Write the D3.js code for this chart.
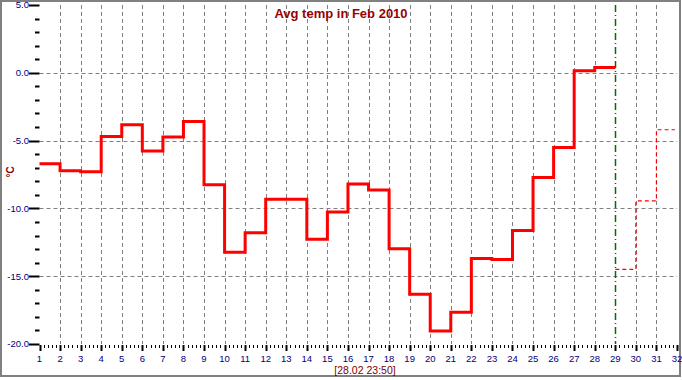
<!DOCTYPE html>
<html><head><meta charset="utf-8">
<script src="https://cdn.jsdelivr.net/npm/d3@7"></script>
<style>body{margin:0;background:#fff;}svg{display:block;font-family:Arial,"Liberation Sans",sans-serif;}</style>
</head><body>
<svg id="c" width="682" height="380"></svg>
<script>
const days = [1,2,3,4,5,6,7,8,9,10,11,12,13,14,15,16,17,18,19,20,21,22,23,24,25,26,27,28];
const temps = [-6.7,-7.23,-7.3,-4.69,-3.83,-5.76,-4.74,-3.59,-8.25,-13.24,-11.8,-9.33,-9.33,-12.28,-10.26,-8.2,-8.64,-12.97,-16.34,-19.05,-17.65,-13.7,-13.77,-11.63,-7.72,-5.5,0.15,0.4];
const forecastDays = [29,30,31];
const forecastTemps = [-14.5,-9.45,-4.2];
const xTicks = d3.range(1,33);
const yTicks = [5,0,-5,-10,-15,-20];
const title = "Avg temp in Feb 2010";
const stamp = "[28.02 23:50]";
const nowDay = 29;

const svg = d3.select("#c");
const x = d3.scaleLinear().domain([1,32]).range([39.5,677]);
const y = d3.scaleLinear().domain([-20,5]).range([344,5]);

svg.append("rect").attr("x",1).attr("y",1).attr("width",679).attr("height",375)
  .attr("fill","#fff").attr("stroke","#808080").attr("stroke-width",2);

// grid
svg.append("g").selectAll("line").data(xTicks.filter(d=>d>1 && d<32 && d!==nowDay)).join("line")
  .attr("x1",d=>Math.round(x(d))+0.5).attr("x2",d=>Math.round(x(d))+0.5)
  .attr("y1",y(5)).attr("y2",y(-20))
  .attr("stroke","#808080").attr("stroke-dasharray","4,3");
svg.append("g").selectAll("line").data(yTicks.filter(d=>d>-20 && d<5)).join("line")
  .attr("x1",x(1)).attr("x2",x(32))
  .attr("y1",d=>Math.round(y(d))+0.5).attr("y2",d=>Math.round(y(d))+0.5)
  .attr("stroke","#808080").attr("stroke-dasharray","4,3");

// now line
svg.append("line").attr("x1",Math.round(x(nowDay))+0.5).attr("x2",Math.round(x(nowDay))+0.5)
  .attr("y1",y(5)).attr("y2",y(-20)).attr("stroke","#007000").attr("stroke-width",1.5)
  .attr("stroke-dasharray","7,3,1,3");

// axes ticks
const yMinor = d3.range(-20,5.001,1);
svg.append("g").selectAll("line").data(yMinor).join("line")
  .attr("x1",d=>yTicks.includes(d)?29:35).attr("x2",39.5)
  .attr("y1",d=>Math.round(y(d))+0.5).attr("y2",d=>Math.round(y(d))+0.5)
  .attr("stroke","#000").attr("stroke-width",2);
const xMinor = d3.range(0,31*5+1).map(i=>1+i/5);
svg.append("g").selectAll("line").data(xMinor).join("line")
  .attr("x1",d=>Math.round(x(d))+0.5).attr("x2",d=>Math.round(x(d))+0.5)
  .attr("y1",345).attr("y2",(d,i)=>i%5===0?351:348)
  .attr("stroke","#000").attr("stroke-width",(d,i)=>i%5===0?2:1);

svg.append("g").selectAll("text").data(yTicks).join("text")
  .attr("x",29).attr("y",d=>y(d)).attr("dy","0.35em").attr("text-anchor","end")
  .attr("font-size","9.5px").attr("fill","#000080").text(d=>d.toFixed(1));
svg.append("g").selectAll("text").data(xTicks).join("text")
  .attr("x",d=>x(d)).attr("y",362).attr("text-anchor","middle")
  .attr("font-size","9.5px").attr("fill","#000080").text(d=>d);

// data
const line = d3.line().x(d=>x(d[0])).y(d=>y(d[1])).curve(d3.curveStepAfter);
const pts = days.map((d,i)=>[d,temps[i]]);
pts.push([days[days.length-1]+1,temps[temps.length-1]]);
svg.append("path").attr("d",line(pts)).attr("fill","none").attr("stroke","#ff0000").attr("stroke-width",3);
const fpts = forecastDays.map((d,i)=>[d,forecastTemps[i]]);
fpts.push([forecastDays[forecastDays.length-1]+0.9,forecastTemps[forecastTemps.length-1]]);
svg.append("path").attr("d",line(fpts)).attr("fill","none").attr("stroke","#ff0000").attr("stroke-width",1.2)
  .attr("stroke-dasharray","4,3");

// texts
svg.append("text").attr("x",341).attr("y",18).attr("text-anchor","middle").attr("font-size","13px")
  .attr("font-weight","bold").attr("fill","#990000").text(title);
svg.append("text").attr("x",365).attr("y",374).attr("text-anchor","middle").attr("font-size","10.5px")
  .attr("fill","#800000").text(stamp);
svg.append("text").attr("transform","translate(14,172) rotate(-90)").attr("text-anchor","middle")
  .attr("font-size","10px").attr("font-weight","bold").attr("fill","#800000").text("°C");
</script>
</body></html>
